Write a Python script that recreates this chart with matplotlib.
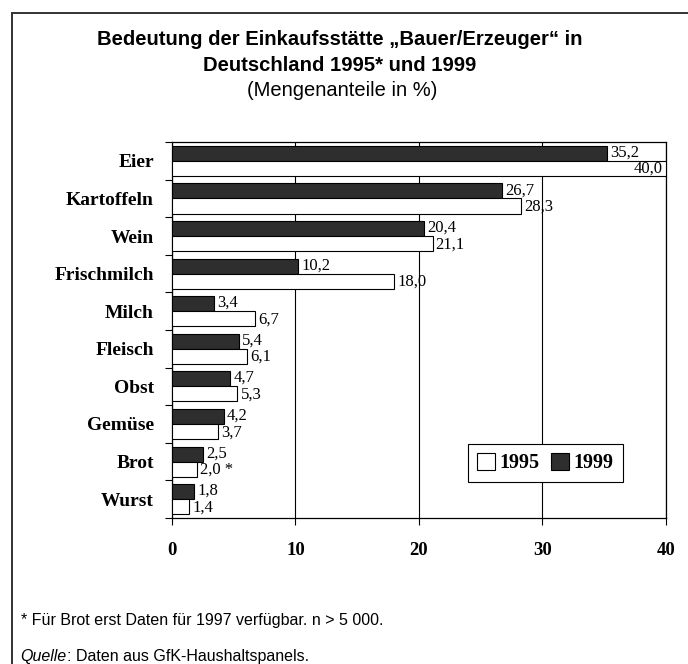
import matplotlib.pyplot as plt
from matplotlib.lines import Line2D
from matplotlib.patches import Patch

cats = ['Eier', 'Kartoffeln', 'Wein', 'Frischmilch', 'Milch',
        'Fleisch', 'Obst', 'Gemüse', 'Brot', 'Wurst']
v1999 = [35.2, 26.7, 20.4, 10.2, 3.4, 5.4, 4.7, 4.2, 2.5, 1.8]
v1995 = [40.0, 28.3, 21.1, 18.0, 6.7, 6.1, 5.3, 3.7, 2.0, 1.4]
notes1995 = ['', '', '', '', '', '', '', '', ' *', '']
xticks = [0, 10, 20, 30, 40]

serif = ['Liberation Serif', 'DejaVu Serif']
sans = ['Liberation Sans', 'DejaVu Sans']
dark = '#2e2e2e'


def fmt(v):
    return f'{v:.1f}'.replace('.', ',')


fig = plt.figure(figsize=(6.88, 6.64), dpi=100)
ax = fig.add_axes([0.25, 0.22, 0.718, 0.566])

pos = list(range(len(cats)))
ax.barh([p - 0.2 for p in pos], v1999, height=0.4, color=dark,
        edgecolor='black', linewidth=0.8, zorder=3)
ax.barh([p + 0.2 for p in pos], v1995, height=0.4, color='white',
        edgecolor='black', linewidth=0.8, zorder=3)

for p, a, b, n in zip(pos, v1999, v1995, notes1995):
    ax.text(a + 0.25, p - 0.22, fmt(a), va='center', ha='left',
            fontsize=12, family=serif, zorder=4)
    if b >= 40:
        ax.text(b - 0.3, p + 0.2, fmt(b) + n, va='center', ha='right',
                fontsize=12, family=serif, zorder=4)
    else:
        ax.text(b + 0.25, p + 0.22, fmt(b) + n, va='center', ha='left',
                fontsize=12, family=serif, zorder=4)

ax.set_xlim(0, 40)
ax.set_ylim(len(cats) - 0.5, -0.5)
ax.set_xticks(xticks)
ax.set_xticklabels([str(t) for t in xticks], family=serif,
                   fontweight='bold', fontsize=13.5)
ax.tick_params(axis='x', direction='out', length=5, pad=12, width=0.8)
ax.set_yticks(pos)
ax.set_yticklabels(cats, family=serif, fontweight='bold', fontsize=14)
ax.tick_params(axis='y', which='major', length=0, pad=13)
ax.set_yticks([p + 0.5 for p in range(-1, len(cats))], minor=True)
ax.tick_params(axis='y', which='minor', direction='out', length=5, width=0.8)
ax.grid(axis='x', color='black', linewidth=0.8, zorder=1)
for s in ax.spines.values():
    s.set_linewidth(0.9)

handles = [Patch(facecolor='white', edgecolor='black', linewidth=0.8),
           Patch(facecolor=dark, edgecolor='black', linewidth=0.8)]
leg = ax.legend(handles, ['1995', '1999'], ncol=2, loc='upper left',
                bbox_to_anchor=(0.599, 0.197), borderaxespad=0,
                frameon=True, fancybox=False, framealpha=1,
                edgecolor='black', handlelength=0.9, handleheight=0.9,
                handletextpad=0.2, columnspacing=0.6, borderpad=0.45,
                prop={'family': serif, 'weight': 'bold', 'size': 14.5})
leg.get_frame().set_linewidth(0.8)

# title
fig.text(0.494, 0.940, 'Bedeutung der Einkaufsstätte „Bauer/Erzeuger“ in',
         ha='center', va='center', family=sans, fontweight='bold', fontsize=14.6)
fig.text(0.494, 0.901, 'Deutschland 1995* und 1999',
         ha='center', va='center', family=sans, fontweight='bold', fontsize=14.6)
fig.text(0.497, 0.863, '(Mengenanteile in %)',
         ha='center', va='center', family=sans, fontsize=14.5)

# footer
fig.text(0.03, 0.066, '* Für Brot erst Daten für 1997 verfügbar. n > 5 000.',
         ha='left', va='center', family=sans, fontsize=11.5)
q = fig.text(0.03, 0.012, 'Quelle', ha='left', va='center', family=sans,
             fontsize=11.5, style='italic')
fig.canvas.draw()
bb = q.get_window_extent().transformed(fig.transFigure.inverted())
fig.text(bb.x1, 0.012, ': Daten aus GfK-Haushaltspanels.', ha='left',
         va='center', family=sans, fontsize=11.5)

# frame round the chart
fig.add_artist(Line2D([0.0175, 1.01], [0.980, 0.980], color='#333333',
                      linewidth=1.4, transform=fig.transFigure))
fig.add_artist(Line2D([0.0175, 0.0175], [0.980, -0.01], color='#333333',
                      linewidth=1.4, transform=fig.transFigure))

fig.savefig('out.png', dpi=100)
